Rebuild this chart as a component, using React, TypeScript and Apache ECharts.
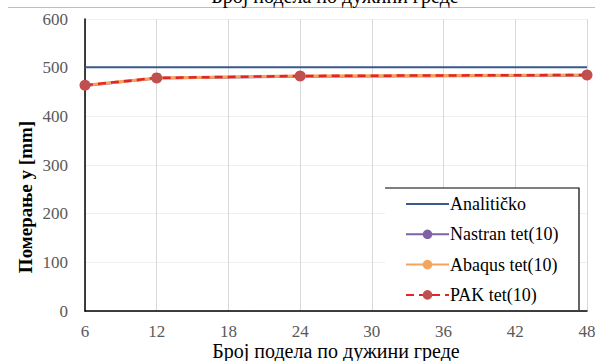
import React, { useEffect, useRef } from "react";
import * as echarts from "echarts";

const xValues = [6, 12, 24, 48];
const analiticko = [501, 501, 501, 501];
const nastran = [463, 478, 482, 484];
const abaqus = [464, 479, 483, 485];
const pak = [464, 479, 483, 485];
const seriesNames = ["Analitičko", "Nastran tet(10)", "Abaqus tet(10)", "PAK tet(10)"];
const xAxisName = "Број подела по дужини греде";
const yAxisName = "Померање y [mm]";
const topTitle = "Број подела по дужини греде";

const FAMILY = "Liberation Serif";

function pairs(vals: number[]) {
  return xValues.map((x, i) => [x, vals[i]]);
}

export default function App() {
  const ref = useRef<HTMLDivElement>(null);
  useEffect(() => {
    if (!ref.current) return;
    document.body.style.margin = "0";
    const chart = echarts.init(ref.current, undefined, { renderer: "svg", width: 595, height: 361 });
    chart.setOption({
      animation: false,
      backgroundColor: "#ffffff",
      textStyle: { fontFamily: FAMILY },
      grid: { left: 85, right: 8, top: 19, bottom: 50, containLabel: false, outerBoundsMode: "none" },
      xAxis: {
        type: "value",
        min: 6,
        max: 48,
        interval: 6,
        name: xAxisName,
        nameLocation: "middle",
        nameGap: 30,
        nameMoveOverlap: false,
        nameTextStyle: { fontFamily: FAMILY, fontSize: 20, color: "#000", lineHeight: 20 },
        axisLine: { show: true, lineStyle: { color: "#000", width: 1.5 } },
        axisTick: { show: false },
        axisLabel: { fontFamily: FAMILY, fontSize: 17, color: "#595959", margin: 12 },
        splitLine: { show: true, lineStyle: { color: "#D9D9D9", width: 1 } },
      },
      yAxis: {
        type: "value",
        min: 0,
        max: 600,
        interval: 100,
        axisLine: { show: true, lineStyle: { color: "#000", width: 1.5 } },
        axisTick: { show: false },
        axisLabel: { fontFamily: FAMILY, fontSize: 17, color: "#595959", margin: 17 },
        splitLine: { show: true, lineStyle: { color: "#EFEFEF", width: 1 } },
      },
      graphic: [
        {
          type: "line",
          shape: { x1: 8, y1: 7.5, x2: 595, y2: 7.5 },
          style: { stroke: "#BFBFBF", lineWidth: 1 },
        },
        {
          type: "text",
          x: 335,
          y: 6,
          style: {
            text: topTitle,
            fontFamily: FAMILY,
            fontSize: 20,
            fill: "#000",
            textAlign: "center",
            textVerticalAlign: "bottom",
          },
        },
        {
          type: "text",
          x: 25,
          y: 197,
          rotation: Math.PI / 2,
          style: {
            text: yAxisName,
            fontFamily: FAMILY,
            fontSize: 19,
            fontWeight: "bold",
            fill: "#000",
            textAlign: "center",
            textVerticalAlign: "middle",
          },
        },
        {
          type: "rect",
          z: 3,
          shape: { x: 385, y: 188, width: 194, height: 122 },
          style: { fill: "#ffffff", stroke: "none" },
        },
        {
          type: "polyline",
          z: 3,
          shape: { points: [[385, 188], [579, 188], [579, 310]] },
          style: { stroke: "#000", lineWidth: 1.2, fill: "none" },
        },
      ],
      legend: {
        orient: "vertical",
        left: 405,
        top: 195,
        padding: 0,
        itemWidth: 43,
        itemHeight: 12,
        itemGap: 12.3,
        z: 5,
        textStyle: { fontFamily: FAMILY, fontSize: 18, color: "#000", lineHeight: 16, padding: [0, 0, 0, -4] },
        data: seriesNames,
      },
      series: [
        {
          name: seriesNames[0],
          type: "line",
          data: pairs(analiticko),
          symbol: "none",
          lineStyle: { color: "#3A5A8C", width: 2 },
          itemStyle: { color: "rgba(0,0,0,0)" },
          z: 2,
        },
        {
          name: seriesNames[1],
          type: "line",
          data: pairs(nastran),
          symbol: "circle",
          symbolSize: 9,
          lineStyle: { color: "#7E62A6", width: 2.5 },
          itemStyle: { color: "#7E62A6" },
          z: 3,
        },
        {
          name: seriesNames[2],
          type: "line",
          data: pairs(abaqus),
          symbol: "circle",
          symbolSize: 9,
          lineStyle: { color: "#F6A45C", width: 3 },
          itemStyle: { color: "#F6A45C" },
          z: 4,
        },
        {
          name: seriesNames[3],
          type: "line",
          data: pairs(pak),
          symbol: "circle",
          symbolSize: 11,
          lineStyle: { color: "#E3242B", width: 2.5, type: [8, 5] },
          itemStyle: { color: "#C0504D" },
          z: 5,
        },
      ],
    });
    return () => chart.dispose();
  }, []);
  return <div ref={ref} style={{ width: 595, height: 361, background: "#fff" }} />;
}
